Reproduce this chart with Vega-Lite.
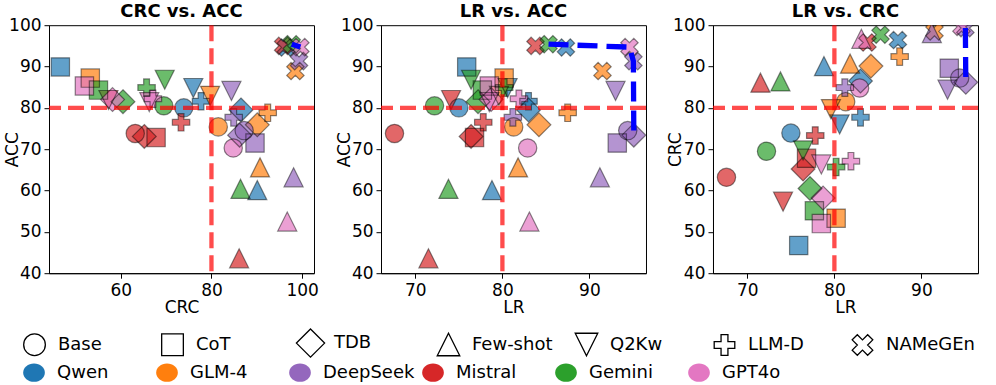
{
  "$schema": "https://vega.github.io/schema/vega-lite/v6.json",
  "background": "white",
  "padding": {"left": 2, "top": 2.2, "right": 10, "bottom": 5},
  "bounds": "flush",
  "spacing": 67,
  "config": {
    "font": "DejaVu Sans",
    "view": {"stroke": "black", "strokeWidth": 1},
    "axis": {"labelFont": "DejaVu Sans", "labelFontSize": 17, "labelColor": "black", "titleFont": "DejaVu Sans", "titleFontSize": 17, "titleFontWeight": "normal", "titleColor": "black", "domainColor": "black", "domainWidth": 1, "tickColor": "black", "tickSize": 5, "tickWidth": 1, "grid": false, "labelFlush": false, "labelOverlap": false},
    "axisX": {"labelPadding": 4, "titleBaseline": "alphabetic", "titleY": 39.5},
    "axisY": {"labelPadding": 3, "titleBaseline": "alphabetic", "titleX": -32},
    "title": {"font": "DejaVu Sans", "fontSize": 18, "fontWeight": "bold", "color": "black", "frame": "group", "baseline": "alphabetic", "offset": -5.3},
    "legend": {"orient": "none", "direction": "horizontal", "columns": 7, "gridAlign": "all", "padding": 0, "labelFont": "DejaVu Sans", "labelFontSize": 18, "labelColor": "black", "labelOffset": 12, "columnPadding": 7, "symbolSize": 470, "symbolOpacity": 1, "title": null}
  },
  "datasets": {
    "pts": [
      {"model": "Qwen", "method": "Base", "CRC": 73.9, "ACC": 80.0, "LR": 75.0},
      {"model": "Qwen", "method": "CoT", "CRC": 46.7, "ACC": 89.9, "LR": 75.9},
      {"model": "Qwen", "method": "TDB", "CRC": 86.5, "ACC": 79.5, "LR": 83.0},
      {"model": "Qwen", "method": "Few-shot", "CRC": 90.1, "ACC": 60.1, "LR": 78.8},
      {"model": "Qwen", "method": "Q2Kw", "CRC": 76.0, "ACC": 84.8, "LR": 80.6},
      {"model": "Qwen", "method": "LLM-D", "CRC": 77.7, "ACC": 81.6, "LR": 83.0},
      {"model": "Qwen", "method": "NAMeGEn", "CRC": 96.4, "ACC": 94.6, "LR": 87.3},
      {"model": "GLM-4", "method": "Base", "CRC": 81.5, "ACC": 75.4, "LR": 81.3},
      {"model": "GLM-4", "method": "CoT", "CRC": 53.3, "ACC": 87.2, "LR": 80.2},
      {"model": "GLM-4", "method": "TDB", "CRC": 90.1, "ACC": 75.9, "LR": 84.2},
      {"model": "GLM-4", "method": "Few-shot", "CRC": 90.7, "ACC": 65.6, "LR": 81.8},
      {"model": "GLM-4", "method": "Q2Kw", "CRC": 79.7, "ACC": 82.9, "LR": 79.6},
      {"model": "GLM-4", "method": "LLM-D", "CRC": 92.4, "ACC": 78.8, "LR": 87.5},
      {"model": "GLM-4", "method": "NAMeGEn", "CRC": 98.5, "ACC": 88.9, "LR": 91.5},
      {"model": "DeepSeek", "method": "Base", "CRC": 87.2, "ACC": 74.5, "LR": 94.4},
      {"model": "DeepSeek", "method": "CoT", "CRC": 89.6, "ACC": 71.5, "LR": 93.2},
      {"model": "DeepSeek", "method": "TDB", "CRC": 86.2, "ACC": 73.4, "LR": 95.1},
      {"model": "DeepSeek", "method": "Few-shot", "CRC": 98.1, "ACC": 63.2, "LR": 91.2},
      {"model": "DeepSeek", "method": "Q2Kw", "CRC": 84.4, "ACC": 84.1, "LR": 93.0},
      {"model": "DeepSeek", "method": "LLM-D", "CRC": 84.9, "ACC": 77.7, "LR": 81.2},
      {"model": "DeepSeek", "method": "NAMeGEn", "CRC": 99.3, "ACC": 91.3, "LR": 95.05},
      {"model": "Mistral", "method": "Base", "CRC": 63.2, "ACC": 73.8, "LR": 67.6},
      {"model": "Mistral", "method": "CoT", "CRC": 67.8, "ACC": 72.8, "LR": 76.8},
      {"model": "Mistral", "method": "TDB", "CRC": 65.2, "ACC": 73.1, "LR": 76.4},
      {"model": "Mistral", "method": "Few-shot", "CRC": 86.1, "ACC": 43.6, "LR": 71.5},
      {"model": "Mistral", "method": "Q2Kw", "CRC": 57.3, "ACC": 81.9, "LR": 74.1},
      {"model": "Mistral", "method": "LLM-D", "CRC": 73.3, "ACC": 76.5, "LR": 77.8},
      {"model": "Mistral", "method": "NAMeGEn", "CRC": 95.8, "ACC": 95.0, "LR": 83.8},
      {"model": "Gemini", "method": "Base", "CRC": 69.5, "ACC": 80.5, "LR": 72.2},
      {"model": "Gemini", "method": "CoT", "CRC": 55.1, "ACC": 84.3, "LR": 77.7},
      {"model": "Gemini", "method": "TDB", "CRC": 60.5, "ACC": 81.5, "LR": 77.2},
      {"model": "Gemini", "method": "Few-shot", "CRC": 86.4, "ACC": 60.4, "LR": 73.8},
      {"model": "Gemini", "method": "Q2Kw", "CRC": 69.7, "ACC": 86.8, "LR": 76.4},
      {"model": "Gemini", "method": "LLM-D", "CRC": 65.7, "ACC": 84.9, "LR": 80.2},
      {"model": "Gemini", "method": "NAMeGEn", "CRC": 97.7, "ACC": 95.4, "LR": 85.3},
      {"model": "GPT4o", "method": "Base", "CRC": 84.8, "ACC": 70.3, "LR": 82.9},
      {"model": "GPT4o", "method": "CoT", "CRC": 52.0, "ACC": 85.3, "LR": 78.5},
      {"model": "GPT4o", "method": "TDB", "CRC": 58.2, "ACC": 82.0, "LR": 78.7},
      {"model": "GPT4o", "method": "Few-shot", "CRC": 96.7, "ACC": 52.5, "LR": 83.1},
      {"model": "GPT4o", "method": "Q2Kw", "CRC": 66.3, "ACC": 81.4, "LR": 78.5},
      {"model": "GPT4o", "method": "LLM-D", "CRC": 67.1, "ACC": 82.2, "LR": 81.9},
      {"model": "GPT4o", "method": "NAMeGEn", "CRC": 99.6, "ACC": 94.7, "LR": 94.6}
    ],
    "thr": [{"t": 80}],
    "f1": [{"CRC": 97.7, "ACC": 95.4}, {"CRC": 99.6, "ACC": 94.7}],
    "f2": [{"LR": 85.3, "ACC": 95.4}, {"LR": 94.6, "ACC": 94.7}, {"LR": 95.05, "ACC": 91.3}, {"LR": 95.1, "ACC": 73.4}],
    "f3": [{"LR": 95.05, "CRC": 99.3}, {"LR": 95.1, "CRC": 86.2}]
  },
  "hconcat": [
    {
      "width": 265, "height": 248,
      "title": "CRC vs. ACC",
      "layer": [
        {
          "data": {"name": "pts"},
          "mark": {"type": "point", "filled": true, "size": 335, "strokeWidth": 0, "clip": true},
          "encoding": {
            "x": {"field": "CRC", "type": "quantitative", "scale": {"domain": [44.2, 102.6], "nice": false, "zero": false}, "axis": {"values": [60, 80, 100], "title": "CRC"}},
            "y": {"field": "ACC", "type": "quantitative", "scale": {"domain": [40, 100], "nice": false, "zero": false}, "axis": {"values": [40, 50, 60, 70, 80, 90, 100], "title": "ACC"}},
            "opacity": {"value": 0.7},
            "color": {"field": "model", "type": "nominal", "scale": {"domain": ["Qwen", "GLM-4", "DeepSeek", "Mistral", "Gemini", "GPT4o"], "range": ["#1f77b4", "#ff7f0e", "#9467bd", "#d62728", "#2ca02c", "#e377c2"]},
              "legend": {"legendX": -26, "legendY": 336, "symbolType": "M-1,0 A1,0.84 0 1,0 1,0 A1,0.84 0 1,0 -1,0 Z", "symbolOpacity": 1, "symbolStrokeWidth": 0, "symbolStrokeColor": "transparent"}},
            "shape": {"field": "method", "type": "nominal", "scale": {"domain": ["Base", "CoT", "TDB", "Few-shot", "Q2Kw", "LLM-D", "NAMeGEn"], "range": ["circle", "square", "M0,-1.3 L1.3,0 L0,1.3 L-1.3,0 Z", "M0,-1.04 L1.04,1.04 L-1.04,1.04 Z", "M0,1.04 L1.04,-1.04 L-1.04,-1.04 Z", "M-0.317,-0.95 L0.317,-0.95 L0.317,-0.317 L0.95,-0.317 L0.95,0.317 L0.317,0.317 L0.317,0.95 L-0.317,0.95 L-0.317,0.317 L-0.95,0.317 L-0.95,-0.317 L-0.317,-0.317 Z", "M-0.475,-0.95 L0,-0.475 L0.475,-0.95 L0.95,-0.475 L0.475,0 L0.95,0.475 L0.475,0.95 L0,0.475 L-0.475,0.95 L-0.95,0.475 L-0.475,0 L-0.95,-0.475 Z"]},
              "legend": {"legendX": -26, "legendY": 306, "symbolFillColor": "white", "symbolStrokeColor": "black", "symbolOpacity": 1, "symbolStrokeWidth": 1.3}}
          }
        },
        {
          "data": {"name": "pts"},
          "mark": {"type": "point", "filled": false, "size": 335, "stroke": "black", "strokeOpacity": 0.65, "strokeWidth": 1.2, "clip": true},
          "encoding": {
            "x": {"field": "CRC", "type": "quantitative"},
            "y": {"field": "ACC", "type": "quantitative"},
            "shape": {"field": "method", "type": "nominal"}
          }
        },
        {"data": {"name": "thr"}, "mark": {"type": "rule", "color": "red", "opacity": 0.7, "strokeWidth": 4.3, "strokeDash": [16, 7]}, "encoding": {"x": {"field": "t", "type": "quantitative"}}},
        {"data": {"name": "thr"}, "mark": {"type": "rule", "color": "red", "opacity": 0.7, "strokeWidth": 4.3, "strokeDash": [16, 7]}, "encoding": {"y": {"field": "t", "type": "quantitative"}}},
        {"data": {"name": "f1"}, "mark": {"type": "line", "color": "blue", "strokeWidth": 5.3, "strokeDash": [20, 9], "clip": true}, "encoding": {"x": {"field": "CRC", "type": "quantitative"}, "y": {"field": "ACC", "type": "quantitative"}}}
      ]
    },
    {
      "width": 265, "height": 248,
      "title": "LR vs. ACC",
      "layer": [
        {
          "data": {"name": "pts"},
          "mark": {"type": "point", "filled": true, "size": 335, "strokeWidth": 0, "clip": true},
          "encoding": {
            "x": {"field": "LR", "type": "quantitative", "scale": {"domain": [66.05, 96.5], "nice": false, "zero": false}, "axis": {"values": [70, 80, 90], "title": "LR"}},
            "y": {"field": "ACC", "type": "quantitative", "scale": {"domain": [40, 100], "nice": false, "zero": false}, "axis": {"values": [40, 50, 60, 70, 80, 90, 100], "title": "ACC"}},
            "opacity": {"value": 0.7},
            "color": {"field": "model", "type": "nominal"},
            "shape": {"field": "method", "type": "nominal"}
          }
        },
        {
          "data": {"name": "pts"},
          "mark": {"type": "point", "filled": false, "size": 335, "stroke": "black", "strokeOpacity": 0.65, "strokeWidth": 1.2, "clip": true},
          "encoding": {
            "x": {"field": "LR", "type": "quantitative"},
            "y": {"field": "ACC", "type": "quantitative"},
            "shape": {"field": "method", "type": "nominal"}
          }
        },
        {"data": {"name": "thr"}, "mark": {"type": "rule", "color": "red", "opacity": 0.7, "strokeWidth": 4.3, "strokeDash": [16, 7]}, "encoding": {"x": {"field": "t", "type": "quantitative"}}},
        {"data": {"name": "thr"}, "mark": {"type": "rule", "color": "red", "opacity": 0.7, "strokeWidth": 4.3, "strokeDash": [16, 7]}, "encoding": {"y": {"field": "t", "type": "quantitative"}}},
        {"data": {"name": "f2"}, "mark": {"type": "line", "color": "blue", "strokeWidth": 5.3, "strokeDash": [20, 9], "clip": true}, "encoding": {"x": {"field": "LR", "type": "quantitative"}, "y": {"field": "ACC", "type": "quantitative"}}}
      ]
    },
    {
      "width": 265, "height": 248,
      "title": "LR vs. CRC",
      "layer": [
        {
          "data": {"name": "pts"},
          "mark": {"type": "point", "filled": true, "size": 335, "strokeWidth": 0, "clip": true},
          "encoding": {
            "x": {"field": "LR", "type": "quantitative", "scale": {"domain": [66.05, 96.5], "nice": false, "zero": false}, "axis": {"values": [70, 80, 90], "title": "LR"}},
            "y": {"field": "CRC", "type": "quantitative", "scale": {"domain": [40, 100], "nice": false, "zero": false}, "axis": {"values": [40, 50, 60, 70, 80, 90, 100], "title": "CRC"}},
            "opacity": {"value": 0.7},
            "color": {"field": "model", "type": "nominal"},
            "shape": {"field": "method", "type": "nominal"}
          }
        },
        {
          "data": {"name": "pts"},
          "mark": {"type": "point", "filled": false, "size": 335, "stroke": "black", "strokeOpacity": 0.65, "strokeWidth": 1.2, "clip": true},
          "encoding": {
            "x": {"field": "LR", "type": "quantitative"},
            "y": {"field": "CRC", "type": "quantitative"},
            "shape": {"field": "method", "type": "nominal"}
          }
        },
        {"data": {"name": "thr"}, "mark": {"type": "rule", "color": "red", "opacity": 0.7, "strokeWidth": 4.3, "strokeDash": [16, 7]}, "encoding": {"x": {"field": "t", "type": "quantitative"}}},
        {"data": {"name": "thr"}, "mark": {"type": "rule", "color": "red", "opacity": 0.7, "strokeWidth": 4.3, "strokeDash": [16, 7]}, "encoding": {"y": {"field": "t", "type": "quantitative"}}},
        {"data": {"name": "f3"}, "mark": {"type": "line", "color": "blue", "strokeWidth": 5.3, "strokeDash": [20, 9], "clip": true}, "encoding": {"x": {"field": "LR", "type": "quantitative"}, "y": {"field": "CRC", "type": "quantitative"}}}
      ]
    }
  ],
  "resolve": {"scale": {"x": "independent", "y": "independent"}}
}
